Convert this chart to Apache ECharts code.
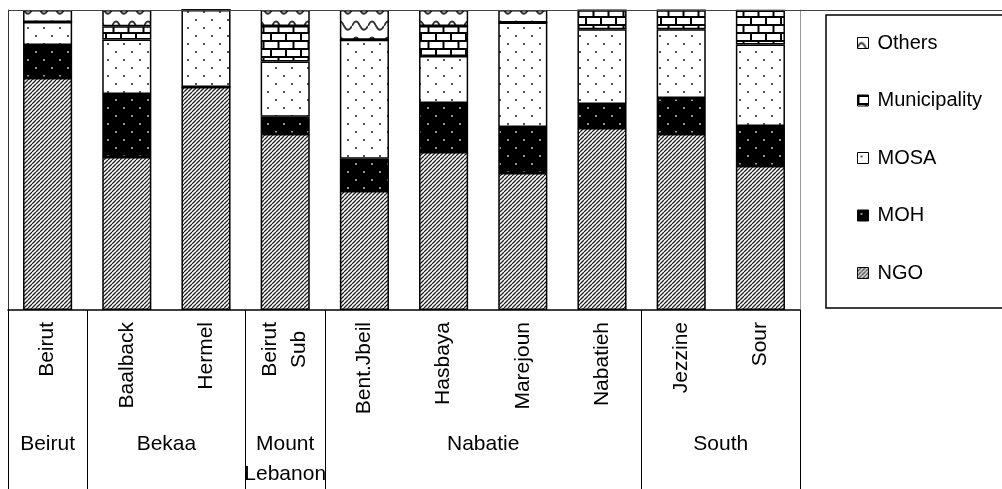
<!DOCTYPE html>
<html>
<head>
<meta charset="utf-8">
<script src="https://cdn.jsdelivr.net/npm/echarts@6/dist/echarts.min.js"></script>
<style>
  html, body { margin: 0; padding: 0; background: #fff; }
  #chart { width: 1002px; height: 489px; }
</style>
</head>
<body>
<div id="chart"></div>
<script>
// districts and their governorates
const districts = ['Beirut', 'Baalback', 'Hermel', 'Beirut\nSub', 'Bent.Jbeil', 'Hasbaya', 'Marejoun', 'Nabatieh', 'Jezzine', 'Sour']
const groupNames = ['Beirut', 'Bekaa', 'Mount\nLebanon', 'Nabatie', 'South']
const groupSpans = [1, 2, 1, 4, 2]

// share of each provider (%)
const ngo = [77.3, 51, 74.3, 58.7, 39.7, 52.7, 45.7, 60.7, 58.7, 48]
const moh = [11, 21, 0, 5.7, 10.7, 16.3, 15.3, 8, 12, 13.3]
const mosa = [7.7, 18.2, 25.7, 18.4, 39.7, 15.7, 34.8, 24.9, 22.9, 27.2]
const municipality = [0, 4.4, 0, 11.9, 0, 10, 0, 6.3, 6.3, 11.3]
const others = [4, 5.4, 0, 5.3, 9.9, 5.3, 4.2, 0, 0, 0]

// group boundaries / centres on a 0..10 scale
const groupEdges = [0]
groupSpans.forEach(s => groupEdges.push(groupEdges[groupEdges.length - 1] + s))
const groupCenters = groupSpans.map((s, i) => groupEdges[i] + s / 2)

function pattern(w, h, draw) {
  const c = document.createElement('canvas')
  c.width = w; c.height = h
  const ctx = c.getContext('2d')
  draw(ctx, w, h)
  return { image: c, repeat: 'repeat' }
}

const hatch = pattern(4, 4, (ctx, w, h) => {
  ctx.fillStyle = '#fff'; ctx.fillRect(0, 0, w, h)
  ctx.strokeStyle = '#222'; ctx.lineWidth = 1.3
  ctx.beginPath()
  for (let k = -4; k <= 4; k += 4) { ctx.moveTo(k, h); ctx.lineTo(k + 4, 0) }
  ctx.stroke()
})
const dots = (bg, fg) => pattern(16, 16, (ctx, w, h) => {
  ctx.fillStyle = bg; ctx.fillRect(0, 0, w, h)
  ctx.fillStyle = fg
  ctx.beginPath(); ctx.arc(4, 4, 0.9, 0, Math.PI * 2); ctx.arc(12, 12, 0.9, 0, Math.PI * 2); ctx.fill()
})
const brick = pattern(30, 16, (ctx, w, h) => {
  ctx.fillStyle = '#fff'; ctx.fillRect(0, 0, w, h)
  ctx.strokeStyle = '#000'; ctx.lineWidth = 2
  ctx.beginPath()
  ctx.moveTo(0, 1); ctx.lineTo(w, 1); ctx.moveTo(0, 9); ctx.lineTo(w, 9)
  ctx.moveTo(1, 1); ctx.lineTo(1, 9); ctx.moveTo(16, 1); ctx.lineTo(16, 9)
  ctx.moveTo(8.5, 9); ctx.lineTo(8.5, 17); ctx.moveTo(23.5, 9); ctx.lineTo(23.5, 17)
  ctx.stroke()
})
const wave = pattern(16, 16, (ctx, w, h) => {
  ctx.fillStyle = '#fff'; ctx.fillRect(0, 0, w, h)
  ctx.strokeStyle = '#333'; ctx.lineWidth = 1.8
  ctx.beginPath()
  ctx.moveTo(0, 10)
  ctx.bezierCurveTo(2.7, 4, 5.3, 4, 8, 10)
  ctx.bezierCurveTo(10.7, 15, 13.3, 15, 16, 10)
  ctx.stroke()
})

const font = 'Liberation Sans'
const seriesDefs = [
  ['NGO', ngo, hatch], ['MOH', moh, dots('#000', '#ddd')], ['MOSA', mosa, dots('#fff', '#000')],
  ['Municipality', municipality, brick], ['Others', others, wave]
]

const chart = echarts.init(document.getElementById('chart'))
chart.setOption({
  animation: false,
  textStyle: { fontFamily: font },
  grid: { left: 8, right: 202, top: 10, bottom: 179 },
  legend: {
    data: ['Others', 'Municipality', 'MOSA', 'MOH', 'NGO'],
    orient: 'vertical', left: 857, top: 33, padding: 0,
    itemWidth: 11, itemHeight: 11, itemGap: 37.5, icon: 'rect', selectedMode: false,
    itemStyle: { borderColor: '#000', borderWidth: 1 },
    textStyle: { fontSize: 20, lineHeight: 20, color: '#000', fontFamily: font, padding: [0, 0, 0, 4] }
  },
  xAxis: [
    {
      type: 'category', data: districts,
      axisLine: { lineStyle: { color: '#000', width: 1.5 } },
      axisTick: { interval: 0, length: 103, lineStyle: { color: '#444' } },
      axisLabel: {
        interval: 0, rotate: 90, margin: 12, fontSize: 21, color: '#000',
        formatter: v => v.includes('\n') ? v.split('\n').map(s => '{c|' + s + '}').join('\n') : v,
        rich: { c: { align: 'center', fontSize: 21, lineHeight: 29, fontFamily: font, color: '#000' } }
      }
    },
    {
      type: 'value', position: 'bottom', min: 0, max: 10,
      axisLine: { show: false }, splitLine: { show: false },
      axisTick: { show: true, customValues: groupEdges, length: 179, lineStyle: { color: '#000' } },
      axisLabel: {
        customValues: groupCenters, margin: 119, fontSize: 21, lineHeight: 30, color: '#000',
        formatter: v => groupNames[groupCenters.indexOf(v)]
      }
    }
  ],
  yAxis: [
    { type: 'value', min: 0, max: 100, position: 'left', axisLabel: { show: false }, axisTick: { show: false },
      splitLine: { show: false }, axisLine: { show: true, lineStyle: { color: '#333' } } },
    { type: 'value', min: 0, max: 100, position: 'right', axisLabel: { show: false }, axisTick: { show: false },
      splitLine: { show: false }, axisLine: { show: true, lineStyle: { color: '#999' } } }
  ],
  series: seriesDefs.map(([name, values, fill]) => ({
    name, type: 'bar', stack: 'total', barWidth: '62%', data: values,
    itemStyle: { color: fill, borderColor: '#000', borderWidth: 1.5 }
  })),
  graphic: [
    { type: 'line', shape: { x1: 8, y1: 10.5, x2: 1002, y2: 10.5 }, style: { stroke: '#444', lineWidth: 1 }, z: 10 },
    { type: 'rect', shape: { x: 826, y: 15, width: 190, height: 293 }, style: { fill: 'none', stroke: '#000', lineWidth: 1.5 } }
  ]
})
</script>
</body>
</html>
